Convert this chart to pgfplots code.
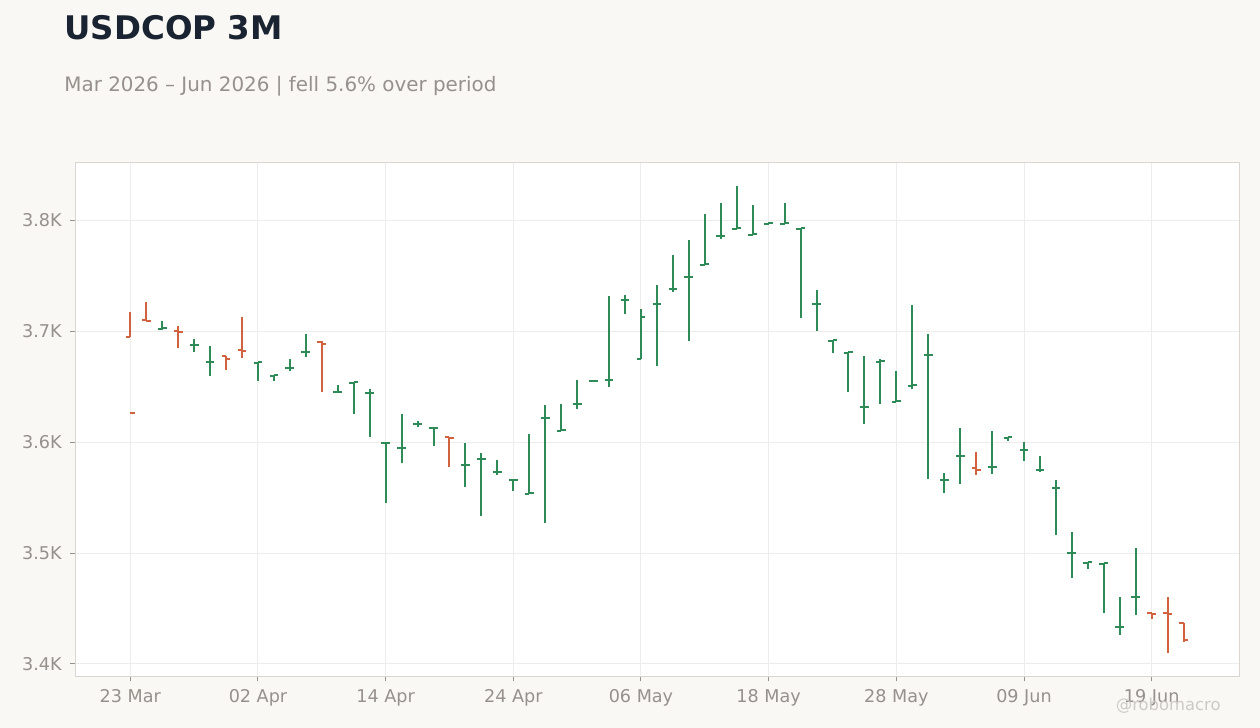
\documentclass[border=0pt]{standalone}
\usepackage{pgfplots}
\pgfplotsset{compat=1.18}
\usepackage{pgfplotstable}
\usepackage{fontspec}
\setmainfont{DejaVu Sans}
\definecolor{bgcol}{RGB}{249,248,245}
\definecolor{framecol}{RGB}{218,213,206}
\definecolor{gridcol}{RGB}{238,237,235}
\definecolor{labelcol}{RGB}{150,145,140}
\definecolor{titlecol}{RGB}{26,35,50}
\definecolor{upcol}{RGB}{46,139,87}
\definecolor{dncol}{RGB}{208,98,64}
\definecolor{wmcol}{RGB}{205,203,200}
\pgfdeclareplotmark{otick}{\pgfpathmoveto{\pgfqpoint{-2.2bp}{0pt}}\pgfpathlineto{\pgfqpoint{0pt}{0pt}}\pgfusepathqstroke}
\pgfdeclareplotmark{ctick}{\pgfpathmoveto{\pgfqpoint{0pt}{0pt}}\pgfpathlineto{\pgfqpoint{2.2bp}{0pt}}\pgfusepathqstroke}

\pgfplotstableread{
x o h l c
2 3702 3709 3701 3703
4 3688 3693 3681 3688
5 3672 3687 3660 3672
8 3671 3672 3655 3672
9 3660 3661 3655 3661
10 3667 3675 3664 3667
11 3681 3698 3677 3681
13 3645 3652 3644 3645
14 3653 3654 3625 3654
15 3644 3648 3605 3644
16 3599 3600 3545 3599
17 3595 3625 3581 3595
18 3616 3619 3614 3616
19 3613 3614 3597 3613
21 3579 3599 3560 3579
22 3585 3590 3533 3585
23 3573 3584 3570 3573
24 3566 3567 3556 3566
25 3553 3607 3553 3554
26 3622 3634 3527 3622
27 3610 3634 3610 3611
28 3634 3656 3630 3634
29 3655 3656 3655 3655
30 3656 3732 3650 3656
31 3728 3733 3716 3728
32 3675 3720 3675 3713
33 3725 3742 3669 3725
34 3738 3769 3735 3738
35 3749 3782 3691 3749
36 3760 3806 3760 3761
37 3786 3816 3783 3786
38 3792 3831 3792 3793
39 3787 3814 3787 3788
40 3797 3799 3797 3798
41 3797 3816 3797 3798
42 3792 3793 3712 3793
43 3725 3737 3700 3725
44 3691 3692 3680 3692
45 3680 3681 3645 3681
46 3632 3678 3616 3632
47 3672 3675 3634 3673
48 3636 3664 3636 3637
49 3651 3724 3648 3652
50 3679 3698 3567 3679
51 3566 3572 3554 3566
52 3588 3613 3562 3588
54 3578 3610 3571 3578
55 3604 3605 3601 3605
56 3593 3600 3583 3593
57 3575 3588 3573 3575
58 3559 3566 3516 3559
59 3500 3519 3478 3500
60 3491 3492 3486 3492
61 3490 3491 3446 3491
62 3433 3460 3426 3433
63 3460 3505 3444 3460
}\upbars

\pgfplotstableread{
x o h l c
0 3695 3717 3695 3626
1 3710 3726 3709 3709
3 3700 3705 3685 3699
6 3678 3678 3665 3675
7 3683 3713 3676 3682
12 3690 3691 3645 3689
20 3605 3605 3578 3604
53 3577 3591 3570 3575
64 3446 3446 3441 3445
65 3446 3460 3410 3445
66 3437 3437 3420 3422
}\dnbars

\begin{document}
\begin{tikzpicture}
\fill[bgcol] (0,0) rectangle (630bp,364bp);
\useasboundingbox (0,0) rectangle (630bp,364bp);
\node[anchor=base west, inner sep=0pt, text=titlecol, font=\fontsize{16.25bp}{19bp}\selectfont\bfseries] at (32bp,344bp) {USDCOP 3M};
\node[anchor=base west, inner sep=0pt, text=labelcol, font=\fontsize{9.95bp}{12bp}\selectfont] at (32bp,318bp) {Mar 2026 – Jun 2026 | fell 5.6\% over period};
\begin{axis}[
  at={(37.65bp,25.85bp)}, anchor=south west,
  scale only axis, width=582bp, height=257bp,
  xmin=-3.446, xmax=69.49, ymin=3388.9, ymax=3852.4,
  axis background/.style={fill=white},
  axis line style={draw=framecol, line width=0.6bp},
  grid=major, grid style={draw=gridcol, line width=0.5bp},
  tick align=outside, major tick length=2.5bp,
  tick style={draw=labelcol, line width=0.5bp},
  xtick pos=bottom, ytick pos=left,
  xtick={0,8,16,24,32,40,48,56,64},
  xticklabels={23 Mar,02 Apr,14 Apr,24 Apr,06 May,18 May,28 May,09 Jun,19 Jun},
  ytick={3400,3500,3600,3700,3800},
  yticklabels={3.4K,3.5K,3.6K,3.7K,3.8K},
  /pgf/number format/assume math mode=true,
  ticklabel style={font=\fontsize{8.8bp}{10bp}\selectfont, text=labelcol},
  yticklabel style={xshift=-0.8bp},
  xticklabel style={yshift=-0.6bp},
  clip=false,
]
\addplot[draw=none, mark=none, forget plot,
  error bars/.cd, y dir=both, y explicit, error mark=none,
  error bar style={draw=upcol, line width=1bp}]
  table[x=x, y expr=(\thisrow{h}+\thisrow{l})/2, y error expr=(\thisrow{h}-\thisrow{l})/2] {\upbars};
\addplot[only marks, mark=otick, mark options={draw=upcol, line width=1bp}] table[x=x, y=o] {\upbars};
\addplot[only marks, mark=ctick, mark options={draw=upcol, line width=1bp}] table[x=x, y=c] {\upbars};
\addplot[draw=none, mark=none, forget plot,
  error bars/.cd, y dir=both, y explicit, error mark=none,
  error bar style={draw=dncol, line width=1bp}]
  table[x=x, y expr=(\thisrow{h}+\thisrow{l})/2, y error expr=(\thisrow{h}-\thisrow{l})/2] {\dnbars};
\addplot[only marks, mark=otick, mark options={draw=dncol, line width=1bp}] table[x=x, y=o] {\dnbars};
\addplot[only marks, mark=ctick, mark options={draw=dncol, line width=1bp}] table[x=x, y=c] {\dnbars};
\end{axis}
\node[anchor=base east, inner sep=0pt, text=wmcol, font=\fontsize{8.2bp}{10bp}\selectfont] at (610.5bp,9bp) {@robomacro};
\end{tikzpicture}
\end{document}
